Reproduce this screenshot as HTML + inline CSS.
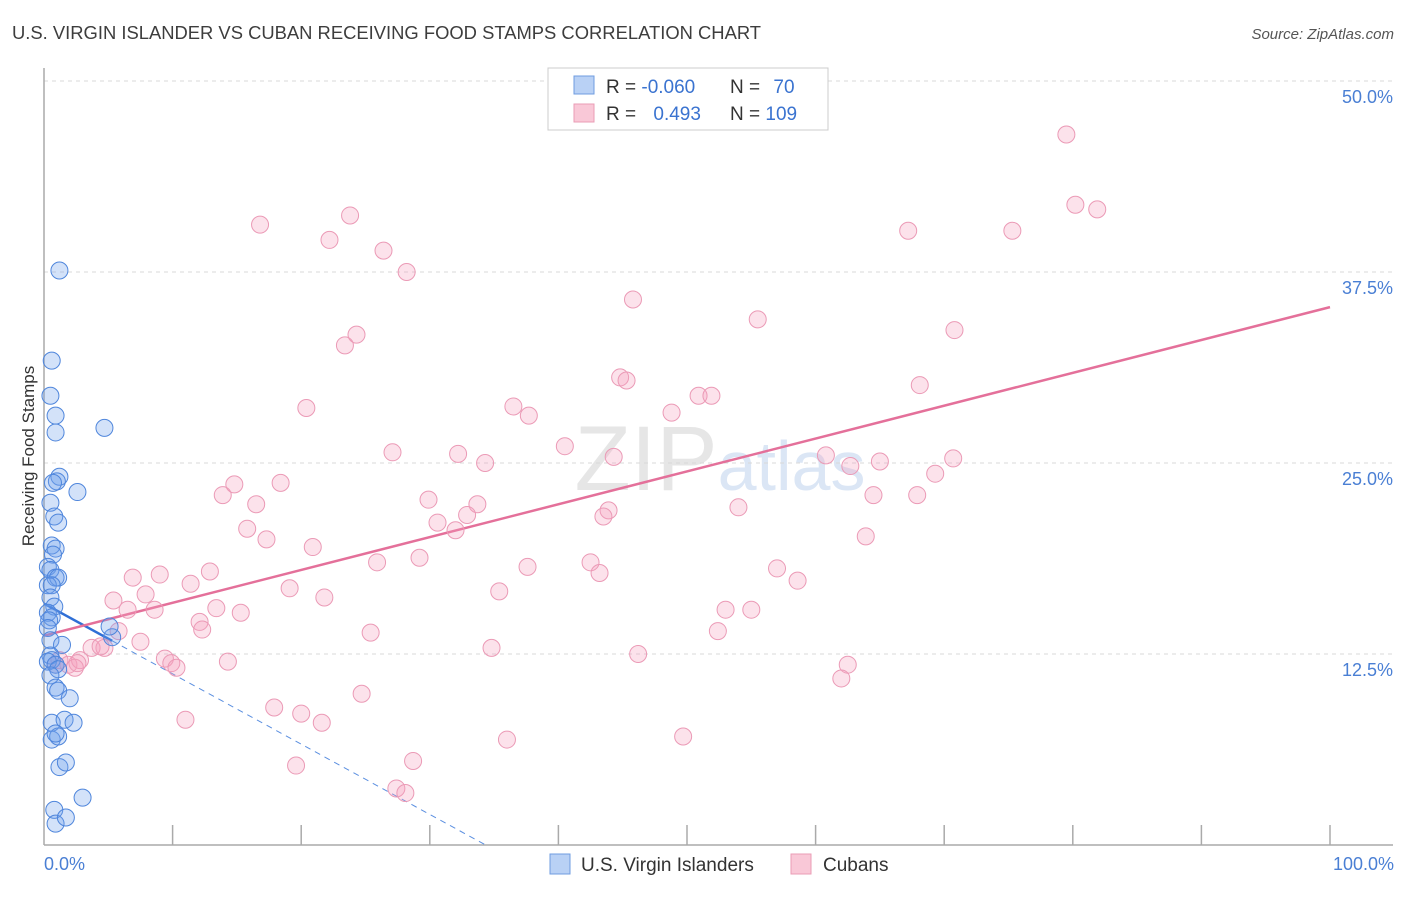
<!DOCTYPE html>
<html><head><meta charset="utf-8"><style>
body{margin:0;background:#fff;font-family:"Liberation Sans",sans-serif;}
svg text{font-family:"Liberation Sans",sans-serif;}
</style></head><body>
<svg id="chart" width="1406" height="892" xmlns="http://www.w3.org/2000/svg">
<text x="12" y="39" font-size="18.4" fill="#3d3d3d">U.S. VIRGIN ISLANDER VS CUBAN RECEIVING FOOD STAMPS CORRELATION CHART</text>
<text x="1394" y="39" font-size="15" fill="#555" font-style="italic" text-anchor="end">Source: ZipAtlas.com</text>
<text x="720" y="490" font-size="92" fill="#e6e6e6" text-anchor="middle" font-family="Liberation Serif"><tspan>ZIP</tspan><tspan fill="#dbe6f5" font-family="Liberation Sans" font-size="70">atlas</tspan></text>
<g id="grid"></g>
<g id="axes"></g>
<g id="trend"></g>
<g id="points"></g>
<text transform="translate(34,456) rotate(-90)" font-size="17" fill="#333" text-anchor="middle">Receiving Food Stamps</text>
<text x="44" y="870" font-size="18" fill="#4a7fd4">0.0%</text>
<text x="1394" y="870" font-size="18" fill="#4a7fd4" text-anchor="end">100.0%</text>
<g>
<rect x="548" y="68" width="280" height="62" fill="#fff" stroke="#ccc"/>
<rect x="574" y="76" width="20" height="18" fill="#b9d1f5" stroke="#6f9ce0"/>
<rect x="574" y="104" width="20" height="18" fill="#f9c8d7" stroke="#ea9cb6"/>
<text x="606" y="93" font-size="19" fill="#333">R = <tspan fill="#3a73d0">-0.060</tspan></text>
<text x="730" y="93" font-size="19" fill="#333">N = <tspan fill="#3a73d0" dx="8">70</tspan></text>
<text x="606" y="120" font-size="19" fill="#333">R = <tspan fill="#3a73d0" dx="12">0.493</tspan></text>
<text x="730" y="120" font-size="19" fill="#333">N = <tspan fill="#3a73d0">109</tspan></text>
</g>
<g>
<rect x="550" y="854" width="20" height="20" fill="#b9d1f5" stroke="#6f9ce0"/>
<text x="581" y="871" font-size="19" fill="#333">U.S. Virgin Islanders</text>
<rect x="791" y="854" width="20" height="20" fill="#f9c8d7" stroke="#ea9cb6"/>
<text x="823" y="871" font-size="19" fill="#333">Cubans</text>
</g>
</svg>
<script>
const yTicks=[12.5,25,37.5,50];
const yTickLabels=["12.5%","25.0%","37.5%","50.0%"];
const xTicks=[10,20,30,40,50,60,70,80,90,100];
const blueX=[1.2,0.6,0.5,0.9,0.9,4.7,1.2,1.0,0.7,2.6,0.5,0.8,1.1,0.6,0.9,0.7,0.3,0.5,0.9,1.1,0.3,0.6,0.5,0.8,0.3,0.6,0.4,0.3,5.3,5.1,0.5,1.4,0.5,0.6,0.3,0.9,1.1,0.5,0.9,1.1,2.0,0.6,1.6,2.3,0.6,1.1,0.9,1.2,1.7,3.0,0.8,0.9,1.7];
const blueY=[37.6,31.7,29.4,28.1,27.0,27.3,24.1,23.8,23.7,23.1,22.4,21.5,21.1,19.6,19.4,19.0,18.2,18.0,17.5,17.5,17.0,17.0,16.2,15.6,15.2,14.9,14.7,14.2,13.6,14.3,13.4,13.1,12.4,12.1,12.0,11.8,11.5,11.1,10.3,10.1,9.6,8.0,8.2,8.0,6.9,7.1,7.3,5.1,5.4,3.1,2.3,1.4,1.8];
const pinkX=[79.5,80.2,81.9,16.8,23.8,22.2,26.4,28.2,67.2,75.3,45.8,55.5,70.8,24.3,23.4,44.8,45.3,68.1,50.9,51.9,20.4,36.5,37.7,48.8,40.5,27.1,32.2,34.3,44.3,60.8,62.7,65.0,70.7,69.3,14.8,18.4,13.9,29.9,33.7,32.9,43.9,43.5,54.0,67.9,64.5,16.5,15.8,30.6,32.0,17.3,20.9,63.9,29.2,25.9,37.6,42.5,43.2,6.9,9.0,12.9,11.4,19.1,57.0,58.6,21.8,35.4,7.9,5.4,6.5,8.6,13.4,15.3,53.0,55.0,12.1,12.3,5.8,7.5,25.4,52.4,3.7,4.7,4.4,9.4,9.9,10.3,14.3,34.8,46.2,62.5,62.0,1.2,1.9,2.8,2.4,0.9,24.7,11.0,17.9,20.0,21.6,36.0,49.7,19.6,28.7,27.4,28.1,2.6];
const pinkY=[46.5,41.9,41.6,40.6,41.2,39.6,38.9,37.5,40.2,40.2,35.7,34.4,33.7,33.4,32.7,30.6,30.4,30.1,29.4,29.4,28.6,28.7,28.1,28.3,26.1,25.7,25.6,25.0,25.4,25.5,24.8,25.1,25.3,24.3,23.6,23.7,22.9,22.6,22.3,21.6,21.9,21.5,22.1,22.9,22.9,22.3,20.7,21.1,20.6,20.0,19.5,20.2,18.8,18.5,18.2,18.5,17.8,17.5,17.7,17.9,17.1,16.8,18.1,17.3,16.2,16.6,16.4,16.0,15.4,15.4,15.5,15.2,15.4,15.4,14.6,14.1,14.0,13.3,13.9,14.0,12.9,12.9,13.0,12.2,11.9,11.6,12.0,12.9,12.5,11.8,10.9,12.1,11.8,12.1,11.6,11.8,9.9,8.2,9.0,8.6,8.0,6.9,7.1,5.2,5.5,3.7,3.4,11.9];
const blueTrend=[15.8,-0.46];
const pinkTrend=[13.7,0.215];
const NS="http://www.w3.org/2000/svg";
const X0=44,X1=1330,Y0=845,Y50=81;
const sx=v=>X0+v/100*(X1-X0);
const sy=v=>Y0-v/50*(Y0-Y50);
function mk(tag,attrs,parent){const e=document.createElementNS(NS,tag);for(const k in attrs)e.setAttribute(k,attrs[k]);parent.appendChild(e);return e;}
const grid=document.getElementById('grid'),axes=document.getElementById('axes'),trend=document.getElementById('trend'),pts=document.getElementById('points');
yTicks.forEach((t,i)=>{
 const l=mk('line',{x1:44,x2:1393,y1:sy(t),y2:sy(t),stroke:'#d8d8d8','stroke-dasharray':'4,4'},grid);
 
 
 const tx=mk('text',{x:1393,y:sy(t)+22,'font-size':18,fill:'#4a7fd4','text-anchor':'end'},grid);
 tx.textContent=yTickLabels[i];
 
 
});
let a=mk('line',{x1:44,x2:44,y1:68,y2:845,stroke:'#aaa','stroke-width':1.5},axes);


a=mk('line',{x1:44,x2:1393,y1:845,y2:845,stroke:'#aaa','stroke-width':1.5},axes);


xTicks.forEach(t=>{const tk=mk('line',{x1:sx(t),x2:sx(t),y1:825,y2:845,stroke:'#aaa','stroke-width':1.5},axes);
 
 });
const bEnd=5.3,bZero=-blueTrend[0]/blueTrend[1];
let t1=mk('line',{x1:sx(0),y1:sy(blueTrend[0]),x2:sx(bEnd),y2:sy(blueTrend[0]+blueTrend[1]*bEnd),stroke:'#2f6fd6','stroke-width':2.5},trend);


let t2=mk('line',{x1:sx(bEnd),y1:sy(blueTrend[0]+blueTrend[1]*bEnd),x2:sx(bZero),y2:sy(0),stroke:'#5b8fe0','stroke-width':1,'stroke-dasharray':'6,5'},trend);


let t3=mk('line',{x1:sx(0),y1:sy(pinkTrend[0]),x2:sx(100),y2:sy(pinkTrend[0]+pinkTrend[1]*100),stroke:'#e4709a','stroke-width':2.5},trend);


pinkX.forEach((x,i)=>{const c=mk('circle',{cx:sx(x),cy:sy(pinkY[i]),r:8.5,fill:'rgba(244,160,188,0.3)',stroke:'#eb9ab6','stroke-width':1},pts);
 
 });
blueX.forEach((x,i)=>{const c=mk('circle',{cx:sx(x),cy:sy(blueY[i]),r:8.5,fill:'rgba(110,160,235,0.3)',stroke:'#4f86dc','stroke-width':1},pts);
 
 });
</script>
</body></html>
